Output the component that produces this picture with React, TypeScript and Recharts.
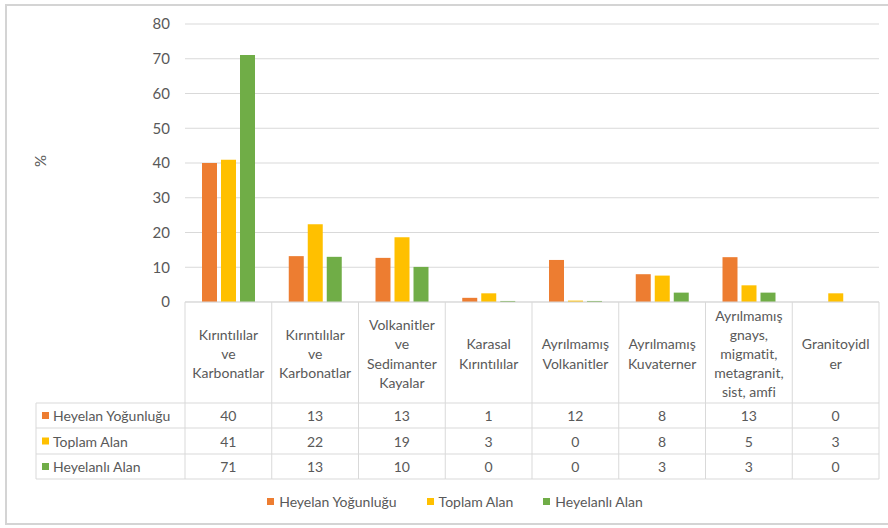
import React from "react";
import { BarChart, Bar, XAxis, YAxis, CartesianGrid, Legend, Label } from "recharts";

const categories = [
  "Kırıntılılar\nve\nKarbonatlar",
  "Kırıntılılar\nve\nKarbonatlar",
  "Volkanitler\nve\nSedimanter\nKayalar",
  "Karasal\nKırıntılılar",
  "Ayrılmamış\nVolkanitler",
  "Ayrılmamış\nKuvaterner",
  "Ayrılmamış\ngnays,\nmigmatit,\nmetagranit,\nsist, amfi",
  "Granitoyidl\ner",
];
const heyelanYogunlugu = [40.0, 13.2, 12.7, 1.2, 12.1, 8.0, 12.9, 0];
const toplamAlan = [40.9, 22.4, 18.6, 2.5, 0.4, 7.6, 4.8, 2.5];
const heyelanliAlan = [71.1, 13.0, 10.1, 0.3, 0.3, 2.7, 2.7, 0];
const yTicks = [0, 10, 20, 30, 40, 50, 60, 70, 80];

const seriesNames = ["Heyelan Yoğunluğu", "Toplam Alan", "Heyelanlı Alan"];
const seriesKeys = ["hy", "ta", "ha"];
const seriesColors = ["#ED7D31", "#FFC000", "#70AD47"];
const seriesValues = [heyelanYogunlugu, toplamAlan, heyelanliAlan];

const data = categories.map((c, i) => ({
  idx: i,
  category: c,
  hy: heyelanYogunlugu[i],
  ta: toplamAlan[i],
  ha: heyelanliAlan[i],
}));

const W = 888;
const H = 528;
const PLOT_LEFT = 185;
const PLOT_RIGHT = 879;
const BAND = (PLOT_RIGHT - PLOT_LEFT) / categories.length;
const HEADER_H = 101;
const ROW_TOPS = [101, 126, 152, 177];
const LABEL_COL_W = 149;
const GRID = "#D9D9D9";
const TEXT = "#595959";
const FONT = "Lato, 'Noto Sans', sans-serif";
const LEGEND_H = 20;
const noLig = { fontVariantLigatures: "none" } as React.CSSProperties;

const TableTick = (props: any) => {
  const { x, y, payload } = props;
  const i = payload.index;
  const left = x - BAND / 2;
  const right = x + BAND / 2;
  const lines = categories[i].split("\n");
  const lh = 19.2;
  const cy = y + HEADER_H / 2 + 1;
  const startY = cy - ((lines.length - 1) * lh) / 2;
  return (
    <g fontFamily={FONT} fontSize={14} fill={TEXT} style={noLig}>
      <line x1={right} y1={y} x2={right} y2={y + ROW_TOPS[3]} stroke={GRID} />
      {i === 0 && <line x1={left} y1={y} x2={left} y2={y + ROW_TOPS[3]} stroke={GRID} />}
      {ROW_TOPS.map((t, k) => (
        <line key={k} x1={left} y1={y + t} x2={right} y2={y + t} stroke={GRID} />
      ))}
      {lines.map((ln, k) => (
        <text key={k} x={x} y={startY + k * lh} textAnchor="middle" dominantBaseline="central" fill={TEXT} style={noLig}>
          {ln}
        </text>
      ))}
      {seriesValues.map((vals, r) => (
        <text
          key={"v" + r}
          x={x}
          y={y + (ROW_TOPS[r] + ROW_TOPS[r + 1]) / 2}
          textAnchor="middle"
          dominantBaseline="central"
          fill={TEXT}
        >
          {Math.round(vals[i])}
        </text>
      ))}
      {i === 0 && (
        <g>
          <line x1={left - LABEL_COL_W} y1={y + ROW_TOPS[0]} x2={left - LABEL_COL_W} y2={y + ROW_TOPS[3]} stroke={GRID} />
          {ROW_TOPS.map((t, k) => (
            <line key={"l" + k} x1={left - LABEL_COL_W} y1={y + t} x2={left} y2={y + t} stroke={GRID} />
          ))}
          {seriesNames.map((n, r) => {
            const my = y + (ROW_TOPS[r] + ROW_TOPS[r + 1]) / 2;
            return (
              <g key={"n" + r}>
                <rect x={left - LABEL_COL_W + 6} y={my - 3.5} width={7} height={7} fill={seriesColors[r]} />
                <text x={left - LABEL_COL_W + 17} y={my} dominantBaseline="central" fill={TEXT}>
                  {n}
                </text>
              </g>
            );
          })}
        </g>
      )}
    </g>
  );
};

const LegendContent = () => (
  <div
    style={{
      display: "flex",
      justifyContent: "center",
      alignItems: "center",
      fontFamily: FONT,
      fontSize: 14,
      color: TEXT,
      gap: 30,
      paddingLeft: 22,
      height: LEGEND_H,
    }}
  >
    {seriesNames.map((n, r) => (
      <div key={n} style={{ display: "flex", alignItems: "center" }}>
        <span style={{ width: 7, height: 7, background: seriesColors[r], display: "inline-block", marginRight: 5 }} />
        <span>{n}</span>
      </div>
    ))}
  </div>
);

const PercentLabel = (props: any) => {
  const vb = props.viewBox || {};
  const cx = 40;
  const cy = (vb.y || 24) + (vb.height || 278) / 2 - 2;
  return (
    <text
      x={cx}
      y={cy}
      transform={`rotate(-90 ${cx} ${cy})`}
      textAnchor="middle"
      dominantBaseline="central"
      fontFamily={FONT}
      fontSize={15}
      fill={TEXT}
    >
      %
    </text>
  );
};

export default function App() {
  return (
    <div style={{ position: "absolute", left: 0, top: 0, width: W, height: H, background: "#fff" }}>
      <div
        style={{
          position: "absolute",
          left: 5,
          top: 4,
          width: W,
          height: 521,
          borderTop: "2px solid #D4D4D4",
          borderLeft: "2px solid #D4D4D4",
          borderBottom: "2px solid #D4D4D4",
          boxSizing: "border-box",
        }}
      />
      <div style={{ position: "absolute", left: 0, top: 0 }}>
        <BarChart
          width={W}
          height={H}
          data={data}
          margin={{ top: 24, right: W - PLOT_RIGHT, bottom: 49 - LEGEND_H, left: 0 }}
          barSize={15}
          barGap={4}
        >
          <CartesianGrid vertical={false} stroke={GRID} />
          <XAxis
            dataKey="idx"
            type="category"
            height={177}
            interval={0}
            tickLine={false}
            tickSize={0}
            tickMargin={0}
            axisLine={{ stroke: GRID }}
            tick={<TableTick />}
          />
          <YAxis
            width={PLOT_LEFT}
            domain={[0, 80]}
            ticks={yTicks}
            axisLine={false}
            tickLine={false}
            tickSize={0}
            tickMargin={15}
            tick={{ fill: TEXT, fontSize: 15, fontFamily: FONT }}
          >
            <Label content={<PercentLabel />} />
          </YAxis>
          {seriesKeys.map((k, r) => (
            <Bar key={k} dataKey={k} name={seriesNames[r]} fill={seriesColors[r]} isAnimationActive={false} />
          ))}
          <Legend
            content={<LegendContent />}
            wrapperStyle={{ position: "absolute", top: 491, left: 0, width: W, height: LEGEND_H }}
          />
        </BarChart>
      </div>
    </div>
  );
}
